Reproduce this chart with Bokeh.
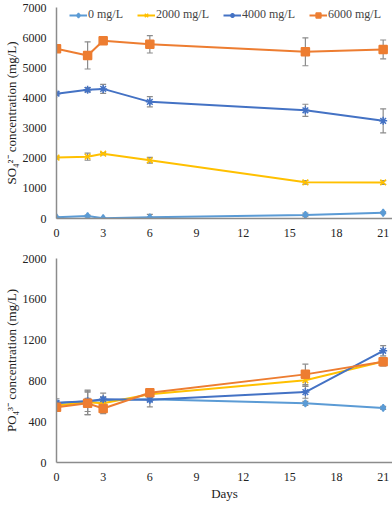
from bokeh.plotting import figure
from bokeh.layouts import column
from bokeh.models import ColumnDataSource, Whisker, TeeHead, Legend, LegendItem, FixedTicker, Range1d
from bokeh.embed import file_html
from bokeh.resources import INLINE

days = [0, 2, 3, 6, 16, 21]
series_names = ["0 mg/L", "2000 mg/L", "4000 mg/L", "6000 mg/L"]

# Sulfate (top panel)
so4_0 = [40, 80, 10, 40, 120, 190]
so4_2000 = [2020, 2050, 2150, 1930, 1200, 1195]
so4_4000 = [4140, 4270, 4300, 3870, 3590, 3240]
so4_6000 = [5630, 5410, 5900, 5780, 5530, 5610]
so4_err_0 = [20, 30, 10, 100, 60, 30]
so4_err_2000 = [40, 117, 40, 95, 60, 60]
so4_err_4000 = [50, 70, 150, 170, 200, 400]
so4_err_6000 = [40, 450, 40, 290, 463, 312]

# Phosphate (bottom panel)
po4_0 = [580, 600, 610, 620, 580, 535]
po4_2000 = [560, 590, 580, 670, 806, 990]
po4_4000 = [585, 600, 620, 615, 690, 1095]
po4_6000 = [542, 580, 530, 684, 864, 987]
po4_err_0 = [20, 30, 30, 20, 20, 15]
po4_err_2000 = [30, 120, 60, 30, 60, 40]
po4_err_4000 = [40, 100, 60, 70, 60, 50]
po4_err_6000 = [20, 110, 50, 30, 100, 40]

so4_ticks = [0, 1000, 2000, 3000, 4000, 5000, 6000, 7000]
po4_ticks = [0, 400, 800, 1200, 1600, 2000]
x_ticks = [0, 3, 6, 9, 12, 15, 18, 21]

colors = ["#5B9BD5", "#FFC000", "#4472C4", "#ED7D31"]
markers = ["diamond", "x", "asterisk", "square"]
msizes = [7, 8, 8, 8]

FONT = "Liberation Serif"
AXIS_COLOR = "#8c8c8c"
ERR_COLOR = "#8c8c8c"


def make_panel(values, errs, ylabel, yticks, ymax, height, border_top, xlabel=None, legend=False):
    p = figure(width=392, height=height, output_backend="svg", toolbar_location=None,
               x_range=Range1d(0, 21.6), y_range=Range1d(0, ymax),
               min_border_left=30, min_border_right=0, min_border_top=border_top,
               min_border_bottom=0)
    p.outline_line_color = None
    p.xgrid.grid_line_color = None
    p.ygrid.grid_line_color = None
    p.background_fill_color = "white"
    p.border_fill_color = "white"

    items = []
    for i in range(4):
        v = values[i]
        e = errs[i]
        src = ColumnDataSource(dict(x=days, y=v,
                                    lo=[a - b for a, b in zip(v, e)],
                                    hi=[a + b for a, b in zip(v, e)]))
        w = Whisker(source=src, base="x", upper="hi", lower="lo", dimension="height",
                    line_color=ERR_COLOR, line_width=1.2,
                    upper_head=TeeHead(size=6, line_color=ERR_COLOR, line_width=1.2),
                    lower_head=TeeHead(size=6, line_color=ERR_COLOR, line_width=1.2))
        p.add_layout(w)
        ln = p.line("x", "y", source=src, line_color=colors[i], line_width=2)
        sc = p.scatter("x", "y", source=src, marker=markers[i], size=msizes[i],
                       fill_color=colors[i], line_color=colors[i], line_width=1.5)
        items.append(LegendItem(label=series_names[i], renderers=[ln, sc]))

    if legend:
        lg = Legend(items=items, orientation="horizontal", location="top_left",
                    border_line_color=None, background_fill_alpha=0,
                    label_text_font=FONT, label_text_font_size="12px",
                    label_standoff=1, glyph_width=18, glyph_height=12,
                    spacing=14, padding=0, margin=0)
        lg.location = (13, 196)
        p.add_layout(lg, "center")

    for ax in (p.xaxis[0], p.yaxis[0]):
        ax.major_tick_line_color = None
        ax.minor_tick_line_color = None
        ax.axis_line_color = AXIS_COLOR
        ax.axis_line_width = 1.5
        ax.major_label_text_font = FONT
        ax.major_label_text_font_size = "12px"
        ax.major_label_text_color = "#222222"
    p.xaxis.ticker = FixedTicker(ticks=x_ticks)
    p.yaxis.ticker = FixedTicker(ticks=yticks)
    p.xaxis.major_label_standoff = 4
    p.yaxis.major_label_standoff = 4
    p.yaxis.axis_label = ylabel
    p.yaxis.axis_label_text_font = FONT
    p.yaxis.axis_label_text_font_size = "13px"
    p.yaxis.axis_label_text_font_style = "normal"
    p.yaxis.axis_label_text_color = "#222222"
    p.yaxis.axis_label_standoff = 1
    if xlabel:
        p.xaxis.axis_label = xlabel
        p.xaxis.axis_label_text_font = FONT
        p.xaxis.axis_label_text_font_size = "13px"
        p.xaxis.axis_label_text_font_style = "normal"
        p.xaxis.axis_label_text_color = "#222222"
        p.xaxis.axis_label_standoff = 2
    return p


p1 = make_panel([so4_0, so4_2000, so4_4000, so4_6000],
                [so4_err_0, so4_err_2000, so4_err_4000, so4_err_6000],
                "SO\u2084\u00b2\u207b concentration (mg/L)", so4_ticks, 7000, 239, 7, legend=True)
p2 = make_panel([po4_0, po4_2000, po4_4000, po4_6000],
                [po4_err_0, po4_err_2000, po4_err_4000, po4_err_6000],
                "PO\u2084\u00b3\u207b concentration (mg/L)", po4_ticks, 2000, 264, 19, xlabel="Days")

layout = column(p1, p2, spacing=0)
open("out.html", "w").write(file_html(layout, INLINE))
